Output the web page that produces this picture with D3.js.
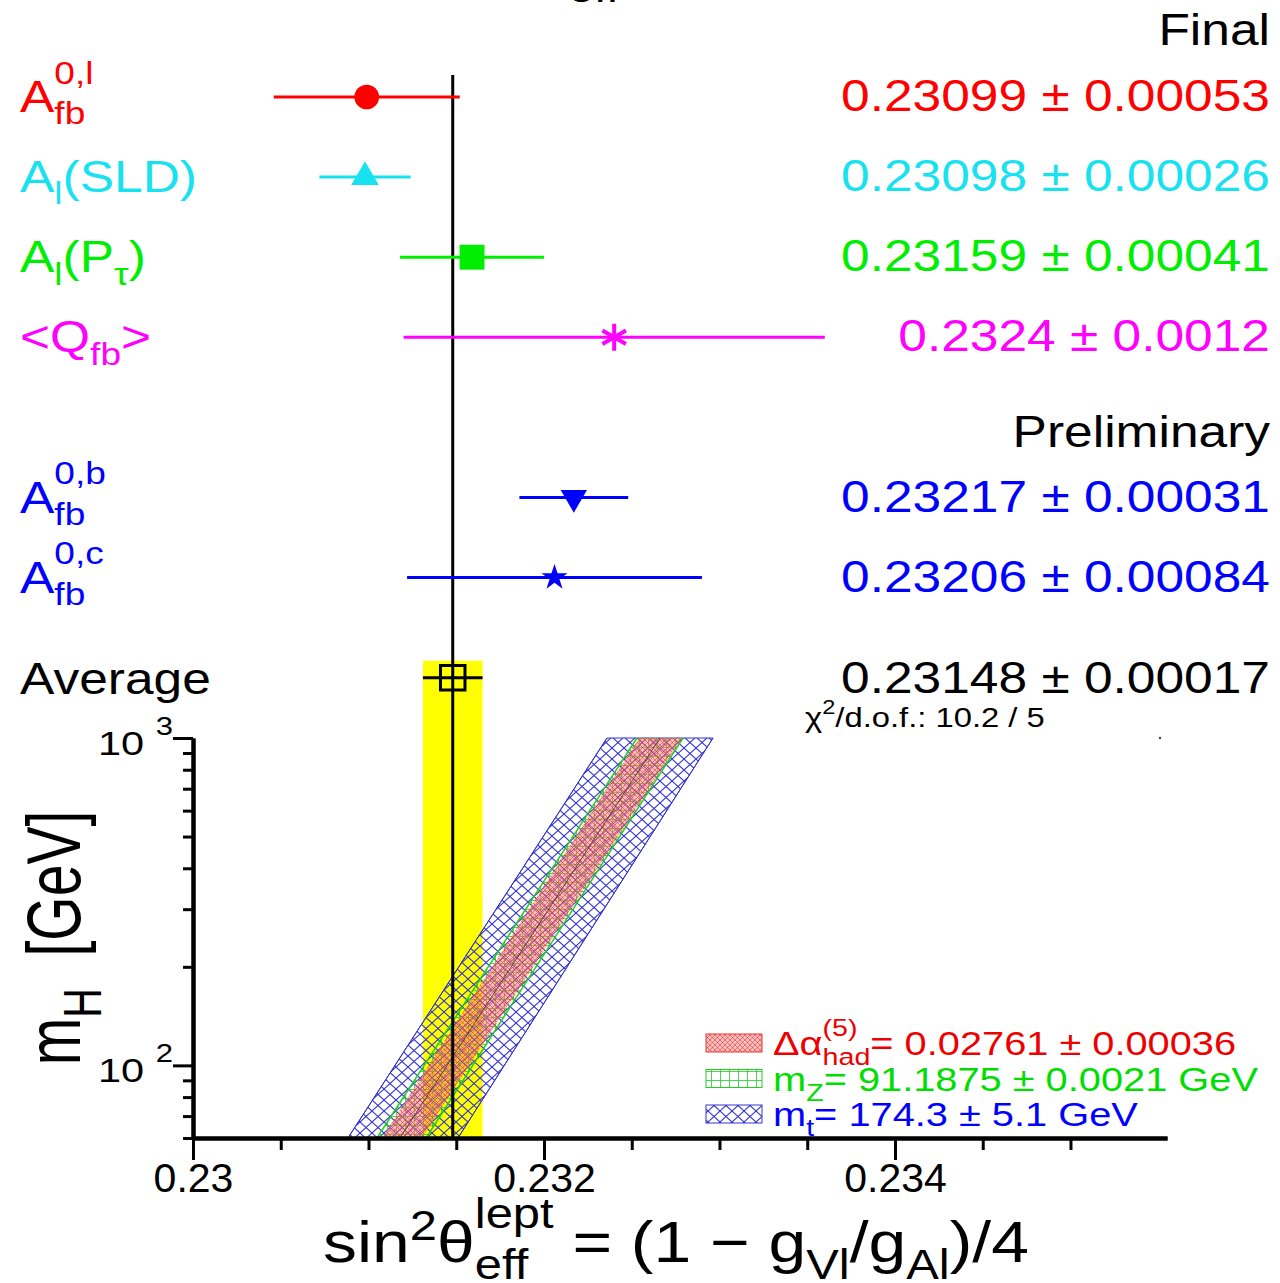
<!DOCTYPE html>
<html>
<head>
<meta charset="utf-8">
<script src="https://cdn.jsdelivr.net/npm/d3@7"></script>
<style>
  html, body { margin: 0; padding: 0; background: #fff; }
  svg text { white-space: pre; }
</style>
</head>
<body>
<div id="chart"></div>
<script>
(function(){

// ---- data ----
var names     = ["A_fb^0,l", "A_l(SLD)", "A_l(P_tau)", "<Q_fb>", "A_fb^0,b", "A_fb^0,c"];
var values    = [0.23099, 0.23098, 0.23159, 0.2324, 0.23217, 0.23206];
var errors    = [0.00053, 0.00026, 0.00041, 0.0012, 0.00031, 0.00084];
var decimals  = [5, 5, 5, 4, 5, 5];
var colors    = ["#ff0000", "#18e2f0", "#00ee00", "#ff00ff", "#0000ff", "#0000ff"];
var markers   = ["circle", "triangle", "square", "asterisk", "triangleDown", "star"];

var avgValue = 0.23148, avgError = 0.00017;
var chi2Text = "10.2 / 5";

// SM bands: sin2theta at the two ends of the mH range
var mH        = [60, 1000];
var centre    = [0.231179, 0.232661];
var mtLow     = [0.230883, 0.232359], mtHigh    = [0.231510, 0.232963];
var mzLow     = [0.231048, 0.232530], mzHigh    = [0.231328, 0.232792];
var alphaLow  = [0.231077, 0.232541], alphaHigh = [0.231305, 0.232786];

var alphaHad = [0.02761, 0.00036];
var mZ       = [91.1875, 0.0021];
var mTop     = [174.3, 5.1];

var xTicks      = [0.23, 0.232, 0.234];
var xMinorTicks = [0.2305, 0.231, 0.2315, 0.2325, 0.233, 0.2335, 0.2345, 0.235];
var yTicks      = [100, 1000];
var yMinorTicks = [60, 70, 80, 90, 200, 300, 400, 500, 600, 700, 800, 900];

// label pieces (sub / superscripts)
var labelParts = [
  ["A", {t:"fb", s:"sub"}, {t:"0,l", s:"sup", stack:true, dy:0.64}],
  ["A", {t:"l", s:"sub"}, "(SLD)"],
  ["A", {t:"l", s:"sub"}, "(P", {t:"τ", s:"sub"}, ")"],
  ["<Q", {t:"fb", s:"sub"}, ">"],
  ["A", {t:"fb", s:"sub"}, {t:"0,b", s:"sup", stack:true, dy:0.64}],
  ["A", {t:"fb", s:"sub"}, {t:"0,c", s:"sup", stack:true, dy:0.64}]
];

var W = 1280, H = 1283, SX = 1.17;
var FONT = "'Liberation Sans', Arial, Helvetica, sans-serif";

var svg = d3.select("#chart").append("svg")
  .attr("width", W).attr("height", H)
  .attr("font-family", FONT);

var x = d3.scaleLinear().domain([0.23, 0.23555]).range([193, 1167]);
var y = d3.scaleLog().domain([60, 1000]).range([1138, 738]);
var rowY = d3.scaleLinear().domain([0, 1]).range([97, 177.1]);
var slots = [0, 1, 2, 3, 5, 6], avgSlot = 7.25;

// text with sub/superscripts, stretched horizontally like the original
function rich(parent, px, py, parts, opt) {
  var fs = opt.size, sx = opt.sx == null ? SX : opt.sx, sy = opt.sy == null ? 1 : opt.sy;
  var g = parent.append("g")
    .attr("transform", "translate(" + px + "," + py + ")" + (opt.rotate ? " rotate(" + opt.rotate + ")" : "") + " scale(" + sx + "," + sy + ")")
    .attr("fill", opt.color || "#000");
  var cx = 0, lastStart = 0;
  parts.forEach(function(p){
    if (typeof p === "string") p = {t: p};
    var ratio = p.s ? (p.r || 0.72) : 1;
    var dy = 0;
    if (p.s === "sub") dy = (p.dy == null ? 0.28 : p.dy) * fs;
    if (p.s === "sup") dy = -(p.dy == null ? 0.42 : p.dy) * fs;
    var x0 = p.stack ? lastStart : cx;
    var t = g.append("text").attr("x", x0).attr("y", dy)
      .attr("font-size", fs * ratio).text(p.t);
    var w = t.node().getComputedTextLength();
    if (p.stack) cx = Math.max(cx, x0 + w);
    else { lastStart = x0; cx = x0 + w; }
  });
  var shift = opt.anchor === "end" ? -cx : opt.anchor === "middle" ? -cx / 2 : 0;
  g.selectAll("text").attr("x", function(){ return +this.getAttribute("x") + shift; });
  return g;
}

// patterns
var defs = svg.append("defs");
var pb = defs.append("pattern").attr("id", "hBlue").attr("patternUnits", "userSpaceOnUse")
  .attr("width", 12).attr("height", 11);
pb.append("path").attr("d", "M0,0L12,11M12,0L0,11").attr("stroke", "#3434d0").attr("stroke-width", 1.1).attr("fill", "none");

var pr = defs.append("pattern").attr("id", "hRed").attr("patternUnits", "userSpaceOnUse")
  .attr("width", 5).attr("height", 5);
pr.append("rect").attr("width", 5).attr("height", 5).attr("fill", "#ff7f7f").attr("fill-opacity", 0.5);
pr.append("path").attr("d", "M0,0L5,5M5,0L0,5").attr("stroke", "#e82828").attr("stroke-width", 0.55).attr("fill", "none");

var pg = defs.append("pattern").attr("id", "hGreen").attr("patternUnits", "userSpaceOnUse")
  .attr("width", 9).attr("height", 9);
pg.append("path").attr("d", "M0,0.5H9M0.5,0V9").attr("stroke", "#22cc22").attr("stroke-width", 0.8).attr("fill", "none");

// yellow average band
svg.append("rect")
  .attr("x", x(avgValue - avgError)).attr("y", rowY(avgSlot) - 17)
  .attr("width", x(avgValue + avgError) - x(avgValue - avgError))
  .attr("height", y(60) - (rowY(avgSlot) - 17))
  .attr("fill", "#ffff00");

// SM bands
var idx = [0, 1];
function band(lo, hi) {
  return d3.area().y(function(i){ return y(mH[i]); })
    .x0(function(i){ return x(lo[i]); }).x1(function(i){ return x(hi[i]); })(idx);
}
function edge(v) {
  return d3.line().x(function(i){ return x(v[i]); }).y(function(i){ return y(mH[i]); })(idx);
}
svg.append("path").attr("d", band(mtLow, mtHigh)).attr("fill", "url(#hBlue)")
  .attr("stroke", "#3434d0").attr("stroke-width", 1);
svg.append("path").attr("d", band(mzLow, mzHigh)).attr("fill", "url(#hGreen)");
svg.append("path").attr("d", band(alphaLow, alphaHigh)).attr("fill", "url(#hRed)");
[mzLow, mzHigh].forEach(function(v){
  svg.append("path").attr("d", edge(v)).attr("stroke", "#22cc22").attr("stroke-width", 1.5).attr("fill", "none");
});
[mtLow, mtHigh].forEach(function(v){
  svg.append("path").attr("d", edge(v)).attr("stroke", "#3030d0").attr("stroke-width", 1).attr("fill", "none");
});
svg.append("path").attr("d", edge(centre)).attr("stroke", "#333").attr("stroke-width", 0.8).attr("fill", "none");

// axes
function styleAxis(g, w) {
  g.attr("font-family", FONT);
  g.select(".domain").attr("stroke-width", 4);
  g.selectAll(".tick line").attr("stroke-width", w);
}
var xa = svg.append("g").attr("transform", "translate(0," + y(60) + ")")
  .call(d3.axisBottom(x).tickValues(xTicks).tickSize(22).tickSizeOuter(0).tickPadding(3)
    .tickFormat(function(d){ return String(d); }));
styleAxis(xa, 3);
xa.attr("font-size", 41);
xa.selectAll("text").attr("fill", "#000");
var xm = svg.append("g").attr("transform", "translate(0," + y(60) + ")")
  .call(d3.axisBottom(x).tickValues(xMinorTicks).tickSize(12).tickSizeOuter(0).tickFormat(""));
styleAxis(xm, 3);

var ya = svg.append("g").attr("transform", "translate(" + x(0.23) + ",0)")
  .call(d3.axisLeft(y).tickValues(yTicks).tickSize(20).tickSizeOuter(0).tickFormat(""));
styleAxis(ya, 3);
var ym = svg.append("g").attr("transform", "translate(" + x(0.23) + ",0)")
  .call(d3.axisLeft(y).tickValues(yMinorTicks).tickSize(10).tickSizeOuter(0).tickFormat(""));
styleAxis(ym, 3);

yTicks.forEach(function(v){
  rich(svg, 173, y(v) + 17, ["10 ", {t: String(Math.round(Math.log10(v))), s:"sup", dy:0.6, r:0.75}],
    {size: 34, sx: 1.22, anchor: "end"});
});

// axis titles
rich(svg, 80, 938, ["m", {t:"H", s:"sub"}, "  [GeV]"], {size: 62, sx: 0.92, sy: 1.22, rotate: -90, anchor: "middle"});
rich(svg, 676, 1262, ["sin", {t:"2", s:"sup", dy:0.38}, "θ", {t:"eff", s:"sub", dy:0.3},
  {t:"lept", s:"sup", stack:true, dy:0.58}, " = (1 − g", {t:"Vl", s:"sub", dy:0.3}, "/g",
  {t:"Al", s:"sub", dy:0.3}, ")/4"], {size: 58, anchor: "middle"});

// clipped title at the very top
rich(svg, 568, 2, ["eff"], {size: 40});

// vertical average line
svg.append("line")
  .attr("x1", x(avgValue)).attr("x2", x(avgValue))
  .attr("y1", 75).attr("y2", y(60))
  .attr("stroke", "#000").attr("stroke-width", 3);

// error bars and markers
var symType = {circle: d3.symbolCircle, triangle: d3.symbolTriangle, square: d3.symbolSquare,
  asterisk: d3.symbolAsterisk, triangleDown: d3.symbolTriangle, star: d3.symbolStar};
var symSize = {circle: 480, triangle: 330, square: 620, asterisk: 520, triangleDown: 300, star: 210};

values.forEach(function(v, i){
  var yy = rowY(slots[i]);
  svg.append("line")
    .attr("x1", x(v - errors[i])).attr("x2", x(v + errors[i]))
    .attr("y1", yy).attr("y2", yy)
    .attr("stroke", colors[i]).attr("stroke-width", 3);
  var m = markers[i];
  var p = svg.append("path")
    .attr("d", d3.symbol(symType[m], symSize[m])())
    .attr("transform", "translate(" + x(v) + "," + yy + ")" + (m === "triangleDown" ? " rotate(180)" : ""));
  if (m === "asterisk") p.attr("fill", "none").attr("stroke", colors[i]).attr("stroke-width", 4);
  else p.attr("fill", colors[i]);

  rich(svg, 20, yy + 15, labelParts[i], {size: 44, color: colors[i]});
  rich(svg, 1270, yy + 14, [v.toFixed(decimals[i]) + " ± " + errors[i].toFixed(decimals[i])],
    {size: 44, color: colors[i], anchor: "end"});
});

// average
var ay = rowY(avgSlot);
svg.append("line")
  .attr("x1", x(avgValue - avgError)).attr("x2", x(avgValue + avgError))
  .attr("y1", ay).attr("y2", ay).attr("stroke", "#000").attr("stroke-width", 3);
svg.append("path")
  .attr("d", d3.symbol(d3.symbolSquare, 600)())
  .attr("transform", "translate(" + x(avgValue) + "," + ay + ")")
  .attr("fill", "none").attr("stroke", "#000").attr("stroke-width", 3);
rich(svg, 20, ay + 16, ["Average"], {size: 44});
rich(svg, 1270, ay + 15, [avgValue.toFixed(5) + " ± " + avgError.toFixed(5)], {size: 44, anchor: "end"});
rich(svg, 805, 727, ["χ", {t:"2", s:"sup", dy:0.45}, "/d.o.f.: " + chi2Text], {size: 28});
svg.append("circle").attr("cx", 1160).attr("cy", 738).attr("r", 1.2).attr("fill", "#444");

// group headers
rich(svg, 1270, 45, ["Final"], {size: 44, anchor: "end"});
rich(svg, 1270, 447, ["Preliminary"], {size: 44, anchor: "end"});

// legend
var legend = [
  {fill: "url(#hRed)", stroke: "#e83030", color: "#ee0000",
   parts: ["Δα", {t:"had", s:"sub", dy:0.3}, {t:"(5)", s:"sup", stack:true, dy:0.55},
           "= " + alphaHad[0].toFixed(5) + " ± " + alphaHad[1].toFixed(5)]},
  {fill: "url(#hGreen)", stroke: "#22cc22", color: "#00dd00",
   parts: ["m", {t:"Z", s:"sub", dy:0.3}, "= " + mZ[0].toFixed(4) + " ± " + mZ[1].toFixed(4) + " GeV"]},
  {fill: "url(#hBlue)", stroke: "#3434d0", color: "#0000ff",
   parts: ["m", {t:"t", s:"sub", dy:0.3}, "= " + mTop[0].toFixed(1) + " ± " + mTop[1].toFixed(1) + " GeV"]}
];
legend.forEach(function(l, i){
  var ly = 1043 + i * 35.5;
  svg.append("rect").attr("x", 706).attr("y", ly - 9).attr("width", 56).attr("height", 18)
    .attr("fill", l.fill).attr("stroke", l.stroke).attr("stroke-width", 1);
  rich(svg, 773, ly + 12, l.parts, {size: 34, color: l.color});
});

})();
</script>
</body>
</html>
